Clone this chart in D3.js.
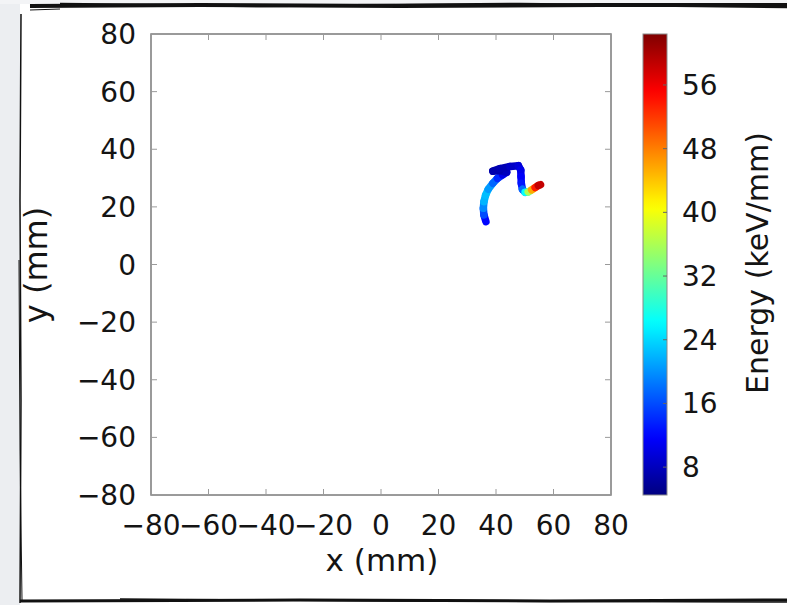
<!DOCTYPE html>
<html>
<head>
<meta charset="utf-8">
<script src="https://cdn.jsdelivr.net/npm/d3@7"></script>
<style>
body { margin: 0; background: #fff; }
text { font-family: "DejaVu Sans", sans-serif; fill: #141414; }
</style>
</head>
<body>
<div id="view"></div>
<script>
var width = 787, height = 605;

// track (mm) and energy deposit (keV/mm)
var trackX = [36.5, 35.8, 35.6, 35.8, 36.4, 37.3, 38.9, 40.5, 42.3, 43.7, 41.2, 38.9, 41.4, 44.9, 47.8, 48.6, 48.7, 48.8, 49.2, 50.1, 51.2, 52.4, 53.6, 54.7, 55.5];
var trackY = [14.9, 17.2, 19.5, 21.8, 24.1, 26.1, 28.2, 29.9, 31.1, 32.0, 32.6, 32.4, 33.3, 34.0, 34.3, 32.8, 30.5, 28.2, 26.1, 25.1, 25.2, 25.9, 26.7, 27.4, 27.7];
var trackE = [10, 14, 18, 21, 23, 22, 19, 16, 12, 9, 7, 7, 7, 8, 9, 10, 11, 12, 14, 22, 31, 41, 50, 57, 60];

var axisTicks = [-80, -60, -40, -20, 0, 20, 40, 60, 80];
var energyTicks = [8, 16, 24, 32, 40, 48, 56];
var energyDomain = [4.5, 62.4];

var box = { left: 151, top: 34, right: 611, bottom: 495 };
var bar = { left: 643, right: 667 };

// jet colormap
function jet(t) {
	t = Math.max(0, Math.min(1, t));
	function c(v) { return Math.round(255 * Math.max(0, Math.min(1, v))); }
	var r = c(1.5 - Math.abs(4 * t - 3));
	var g = c(1.5 - Math.abs(4 * t - 2));
	var b = c(1.5 - Math.abs(4 * t - 1));
	return "rgb(" + r + "," + g + "," + b + ")";
}

var svg = d3.select("#view").append("svg")
	.attr("width", width)
	.attr("height", height);

// sketchy frame round the picture
svg.append("rect").attr("x", 0).attr("y", 0).attr("width", 20).attr("height", height).attr("fill", "#eceef1");
svg.append("rect").attr("x", 0).attr("y", 0).attr("width", width).attr("height", 4).attr("fill", "#f3f4f6");
var rough = d3.line().curve(d3.curveLinear);
var frameStrokes = [
	{ pts: [[30, 6], [200, 5], [400, 6], [600, 5], [787, 5]], w: 4 },
	{ pts: [[60, 4], [260, 6], [520, 4], [787, 7]], w: 2.5 },
	{ pts: [[30, 10], [60, 9]], w: 1 },
	{ pts: [[21, 14], [20, 200], [21, 400], [20, 603]], w: 1.5 },
	{ pts: [[19, 260], [20, 450], [22, 600]], w: 1 },
	{ pts: [[20, 601], [300, 600], [550, 601], [787, 600]], w: 3 },
	{ pts: [[120, 599], [400, 601], [787, 602]], w: 1.5 }
];
svg.selectAll(".frame").data(frameStrokes).enter().append("path")
	.attr("class", "frame")
	.attr("d", function(d) { return rough(d.pts); })
	.attr("fill", "none")
	.attr("stroke", "#111")
	.attr("stroke-width", function(d) { return d.w; });

var x = d3.scaleLinear().domain([-80, 80]).range([box.left, box.right]);
var y = d3.scaleLinear().domain([-80, 80]).range([box.bottom, box.top]);
var e = d3.scaleLinear().domain(energyDomain).range([box.bottom, box.top]);

// plot box
svg.append("rect")
	.attr("x", box.left).attr("y", box.top)
	.attr("width", box.right - box.left).attr("height", box.bottom - box.top)
	.attr("fill", "#fff").attr("stroke", "#7a7a7a").attr("stroke-width", 1.5);

// inward ticks on the four sides
var tickLen = 6;
axisTicks.forEach(function(t) {
	svg.append("line").attr("x1", x(t)).attr("x2", x(t)).attr("y1", box.bottom).attr("y2", box.bottom - tickLen).attr("stroke", "#9a9a9a");
	svg.append("line").attr("x1", x(t)).attr("x2", x(t)).attr("y1", box.top).attr("y2", box.top + tickLen).attr("stroke", "#9a9a9a");
	svg.append("line").attr("y1", y(t)).attr("y2", y(t)).attr("x1", box.left).attr("x2", box.left + tickLen).attr("stroke", "#9a9a9a");
	svg.append("line").attr("y1", y(t)).attr("y2", y(t)).attr("x1", box.right).attr("x2", box.right - tickLen).attr("stroke", "#9a9a9a");
});

svg.selectAll(".xl").data(axisTicks).enter().append("text")
	.attr("class", "xl")
	.attr("x", function(d) { return x(d); })
	.attr("y", 535)
	.attr("text-anchor", "middle")
	.style("font-size", "28px")
	.text(function(d) { return d < 0 ? "\u2212" + (-d) : d; });

svg.selectAll(".yl").data(axisTicks).enter().append("text")
	.attr("class", "yl")
	.attr("x", 136)
	.attr("y", function(d) { return y(d) + 10; })
	.attr("text-anchor", "end")
	.style("font-size", "28px")
	.text(function(d) { return d < 0 ? "\u2212" + (-d) : d; });

svg.append("text")
	.attr("x", 382).attr("y", 571)
	.attr("text-anchor", "middle")
	.style("font-size", "31px")
	.text("x (mm)");

svg.append("text")
	.attr("transform", "translate(47,265) rotate(-90)")
	.attr("text-anchor", "middle")
	.style("font-size", "32px")
	.text("y (mm)");

// track, segment by segment coloured by energy
var segs = [];
for (var i = 0; i < trackX.length - 1; i++) {
	segs.push({ x1: trackX[i], y1: trackY[i], x2: trackX[i + 1], y2: trackY[i + 1], en: (trackE[i] + trackE[i + 1]) / 2 });
}
svg.selectAll(".seg").data(segs).enter().append("line")
	.attr("class", "seg")
	.attr("x1", function(d) { return x(d.x1); })
	.attr("y1", function(d) { return y(d.y1); })
	.attr("x2", function(d) { return x(d.x2); })
	.attr("y2", function(d) { return y(d.y2); })
	.attr("stroke", function(d) { return jet((d.en - energyDomain[0]) / (energyDomain[1] - energyDomain[0])); })
	.attr("stroke-width", 7.5)
	.attr("stroke-linecap", "round");

// colour bar
var grad = svg.append("defs").append("linearGradient")
	.attr("id", "jetGrad")
	.attr("x1", "0").attr("y1", "1").attr("x2", "0").attr("y2", "0");
grad.selectAll("stop").data(d3.range(0, 1.0001, 0.02)).enter().append("stop")
	.attr("offset", function(d) { return d; })
	.attr("stop-color", function(d) { return jet(d); });

svg.append("rect")
	.attr("x", bar.left).attr("y", e(energyDomain[1]))
	.attr("width", bar.right - bar.left)
	.attr("height", e(energyDomain[0]) - e(energyDomain[1]))
	.attr("fill", "url(#jetGrad)")
	.attr("stroke", "#8a8a8a").attr("stroke-width", 1);

svg.selectAll(".ct").data(energyTicks).enter().append("line")
	.attr("class", "ct")
	.attr("x1", bar.right).attr("x2", bar.right - 4)
	.attr("y1", function(d) { return e(d); }).attr("y2", function(d) { return e(d); })
	.attr("stroke", "#666");

svg.selectAll(".cl").data(energyTicks).enter().append("text")
	.attr("class", "cl")
	.attr("x", 682)
	.attr("y", function(d) { return e(d) + 10; })
	.style("font-size", "28px")
	.text(function(d) { return d; });

svg.append("text")
	.attr("transform", "translate(768,263) rotate(-90)")
	.attr("text-anchor", "middle")
	.style("font-size", "30px")
	.text("Energy (keV/mm)");
</script>
</body>
</html>
